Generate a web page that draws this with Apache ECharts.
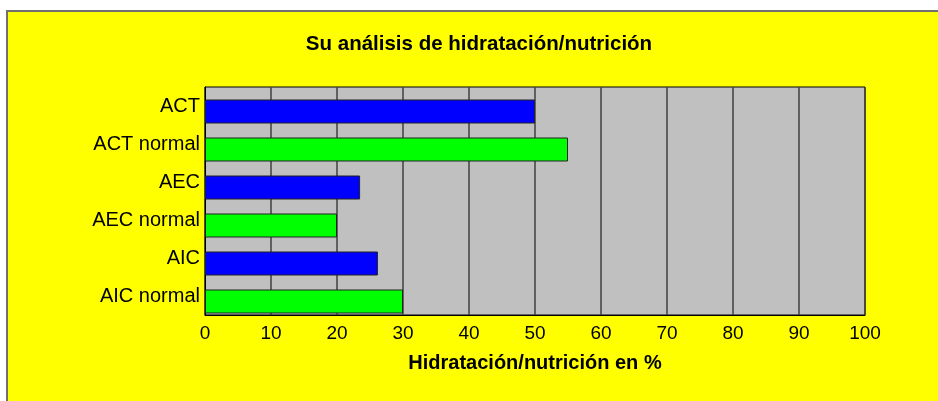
<!DOCTYPE html>
<html>
<head>
<meta charset="utf-8">
<script src="https://cdn.jsdelivr.net/npm/echarts@6/dist/echarts.min.js"></script>
<style>
  html, body { margin: 0; padding: 0; background: #ffffff; }
  #frame {
    position: absolute; left: 6px; top: 10px; width: 940px; height: 400px;
    background: #ffff00; border-left: 2px solid #707070; border-top: 2px solid #707070;
  }
  #main { position: absolute; left: 0; top: 0; width: 938px; height: 401px; }
</style>
</head>
<body>
<div id="frame"></div>
<div id="main"></div>
<script>
// categorias de arriba hacia abajo
var categories = ['ACT', 'ACT normal', 'AEC', 'AEC normal', 'AIC', 'AIC normal'];
var values = [50, 55, 23.5, 20, 26.2, 30];
var barColors = ['#0000ff', '#00ff00', '#0000ff', '#00ff00', '#0000ff', '#00ff00'];
var xTicks = [0, 10, 20, 30, 40, 50, 60, 70, 80, 90, 100];

var myChart = echarts.init(document.getElementById('main'));

var font = 'Liberation Sans, Arial, sans-serif';

myChart.setOption({
    backgroundColor: 'transparent',
    animation: false,
    title: {
        text: 'Su análisis de hidratación/nutrición',
        left: 474,
        top: 29,
        textAlign: 'center',
        textStyle: { fontFamily: font, fontSize: 20.5, fontWeight: 'bold', color: '#000' }
    },
    // grid 0: fondo, ejes y etiquetas; grid 1: las barras (un poco mas abajo, como en Excel)
    grid: [{
        left: 205, right: 73, top: 87, bottom: 86,
        show: true,
        backgroundColor: '#c0c0c0',
        borderColor: '#000',
        borderWidth: 1
    }, {
        left: 205, right: 73, top: 92.5, bottom: 80.5
    }],
    xAxis: [{
        gridIndex: 0,
        type: 'value',
        min: xTicks[0],
        max: xTicks[xTicks.length - 1],
        interval: 10,
        name: 'Hidratación/nutrición en %',
        nameLocation: 'middle',
        nameGap: 38,
        nameTextStyle: { fontFamily: font, fontSize: 20, fontWeight: 'bold', color: '#000' },
        axisLine: { show: true, lineStyle: { color: '#000', width: 1 } },
        axisTick: { show: false },
        axisLabel: { fontFamily: font, fontSize: 19, color: '#000', margin: 9 },
        splitLine: { show: true, lineStyle: { color: '#404040', width: 1.5 } }
    }, {
        gridIndex: 1,
        type: 'value',
        min: xTicks[0],
        max: xTicks[xTicks.length - 1],
        show: false
    }],
    yAxis: [{
        gridIndex: 0,
        type: 'category',
        data: categories,
        inverse: true,
        axisLine: { show: true, lineStyle: { color: '#000', width: 1 } },
        axisTick: { show: false },
        axisLabel: { fontFamily: font, fontSize: 20, color: '#000', margin: 5 },
        splitLine: { show: false }
    }, {
        gridIndex: 1,
        type: 'category',
        data: categories,
        inverse: true,
        show: false
    }],
    series: [{
        type: 'bar',
        xAxisIndex: 1,
        yAxisIndex: 1,
        barWidth: 24,
        data: values.map(function (v, i) {
            return { value: v, itemStyle: { color: barColors[i] } };
        }),
        itemStyle: { borderColor: '#222', borderWidth: 1 }
    }]
});
</script>
</body>
</html>
